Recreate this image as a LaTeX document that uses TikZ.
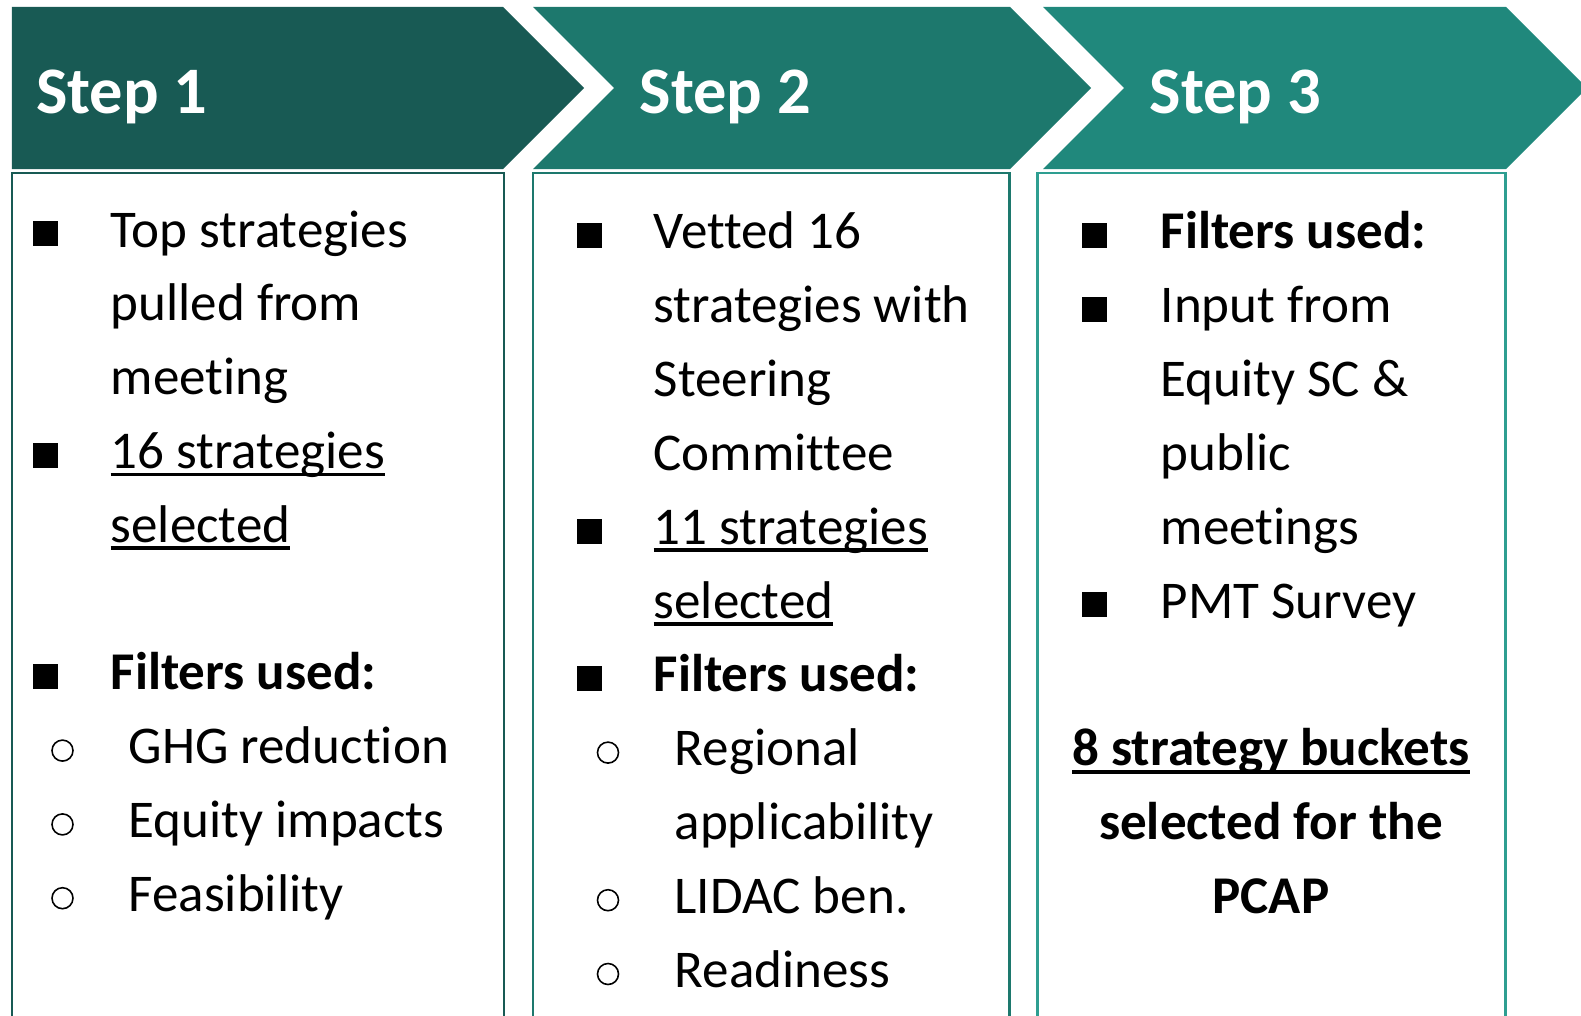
\documentclass[tikz,border=0pt]{standalone}
\usepackage{fontspec}
\setmainfont{Carlito}[Ligatures=NoCommon]

\newcommand{\ulword}[1]{\setbox0\hbox{#1}\rlap{\vrule height -1.2pt depth 2.3pt width \wd0}\box0}

\definecolor{stepone}{HTML}{185A54}
\definecolor{steptwo}{HTML}{1D786D}
\definecolor{stepthree}{HTML}{20887C}
\definecolor{boxthree}{HTML}{2E9E91}

\tikzset{
  stephead/.style={anchor=base west, inner sep=0pt, text=white, font=\fontsize{18.9}{22}\selectfont\bfseries},
  item/.style={anchor=base west, inner sep=0pt, font=\fontsize{15.1}{21}\selectfont},
  bolditem/.style={item, font=\fontsize{15.1}{21}\selectfont\bfseries},
  sqbullet/.style={fill=black, inner sep=0pt, minimum size=0.25cm, anchor=south west},
  rdbullet/.style={circle, draw=black, line width=0.45pt, inner sep=0pt, minimum size=0.21cm},
  colbox/.style={line width=0.85pt, fill=white}
}

\begin{document}
\begin{tikzpicture}
		\useasboundingbox (0,0) rectangle (15.81,10.15);
		% chevrons
		\fill[stepone] (0.12,10.08) -- (5.03,10.08) -- (5.84,9.27) -- (5.03,8.46) -- (0.12,8.46) -- cycle;
		\fill[steptwo] (5.33,10.08) -- (10.10,10.08) -- (10.91,9.27) -- (10.10,8.46) -- (5.33,8.46) -- (6.14,9.27) -- cycle;
		\fill[stepthree] (10.43,10.08) -- (15.06,10.08) -- (15.87,9.27) -- (15.06,8.46) -- (10.43,8.46) -- (11.24,9.27) -- cycle;
		\node[stephead] (h1) at (0.355,9.02) {Step 1};
		\node[stephead] (h2) at (6.39,9.02) {Step 2};
		\node[stephead] (h3) at (11.49,9.02) {Step 3};
		% boxes
		\draw[colbox, draw=stepone] (0.12,-0.3) rectangle (5.04,8.42);
		\draw[colbox, draw=steptwo] (5.33,-0.3) rectangle (10.09,8.42);
		\draw[colbox, draw=boxthree] (10.37,-0.3) rectangle (15.05,8.42);

		% step 1
		\node[sqbullet] (b1a) at (0.32,7.68) {};
		\node[item] (t1a) at (1.10,7.68) {Top strategies};
		\node[item] (t1b) at (1.10,6.942) {pulled from};
		\node[item] (t1c) at (1.10,6.204) {meeting};
		\node[sqbullet] (b1b) at (0.32,5.466) {};
		\node[item] (t1d) at (1.10,5.466) {\ulword{16 strategies}};
		\node[item] (t1e) at (1.10,4.728) {\ulword{selected}};
		\node[sqbullet] (b1c) at (0.32,3.252) {};
		\node[bolditem] (t1f) at (1.10,3.252) {Filters used:};
		\node[rdbullet] (o1a) at (0.625,2.644) {};
		\node[item] (t1g) at (1.28,2.514) {GHG reduction};
		\node[rdbullet] (o1b) at (0.625,1.906) {};
		\node[item] (t1h) at (1.28,1.776) {Equity impacts};
		\node[rdbullet] (o1c) at (0.625,1.168) {};
		\node[item] (t1i) at (1.28,1.038) {Feasibility};

		% step 2
		\node[sqbullet] (b2a) at (5.76,7.66) {};
		\node[item] (t2a) at (6.53,7.66) {Vetted 16};
		\node[item] (t2b) at (6.53,6.922) {strategies with};
		\node[item] (t2c) at (6.53,6.184) {Steering};
		\node[item] (t2d) at (6.53,5.446) {Committee};
		\node[sqbullet] (b2b) at (5.76,4.708) {};
		\node[item] (t2e) at (6.53,4.708) {\ulword{11 strategies}};
		\node[item] (t2f) at (6.53,3.97) {\ulword{selected}};
		\node[sqbullet] (b2c) at (5.76,3.232) {};
		\node[bolditem] (t2g) at (6.53,3.232) {Filters used:};
		\node[rdbullet] (o2a) at (6.08,2.624) {};
		\node[item] (t2h) at (6.74,2.494) {Regional};
		\node[item] (t2i) at (6.74,1.756) {applicability};
		\node[rdbullet] (o2b) at (6.08,1.148) {};
		\node[item] (t2j) at (6.74,1.018) {LIDAC ben.};
		\node[rdbullet] (o2c) at (6.08,0.41) {};
		\node[item] (t2k) at (6.74,0.28) {Readiness};

		% step 3
		\node[sqbullet] (b3a) at (10.81,7.66) {};
		\node[bolditem] (t3a) at (11.60,7.66) {Filters used:};
		\node[sqbullet] (b3b) at (10.81,6.922) {};
		\node[item] (t3b) at (11.60,6.922) {Input from};
		\node[item] (t3c) at (11.60,6.184) {Equity SC \&};
		\node[item] (t3d) at (11.60,5.446) {public};
		\node[item] (t3e) at (11.60,4.708) {meetings};
		\node[sqbullet] (b3c) at (10.81,3.97) {};
		\node[item] (t3f) at (11.60,3.97) {PMT Survey};
		\node[bolditem, anchor=base] (r3a) at (12.71,2.494) {\ulword{8 strategy buckets}};
		\node[bolditem, anchor=base] (r3b) at (12.71,1.756) {selected for the};
		\node[bolditem, anchor=base] (r3c) at (12.71,1.018) {PCAP};
		\end{tikzpicture}
\end{document}
